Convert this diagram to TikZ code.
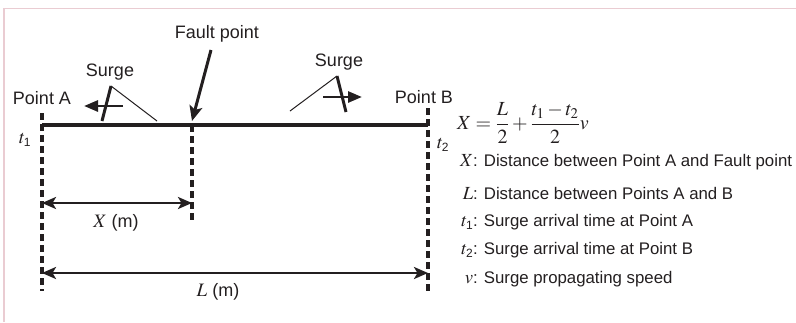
\documentclass[tikz,border=0pt]{standalone}
\usepackage{mathptmx}
\usepackage{fontspec}
\setmainfont{Liberation Sans}
\usetikzlibrary{arrows.meta}
\definecolor{cframe}{RGB}{234,204,210}
\definecolor{cink}{RGB}{35,31,32}
\newcommand{\tsb}[1]{$t_{\mbox{\fontsize{12}{12}\selectfont #1}}$}
\newcommand{\symb}[1]{\makebox[16pt][r]{\fontsize{18.5}{20}\selectfont #1}}

\begin{document}
\begin{tikzpicture}[
  x=1pt, y=-1pt,
  font=\fontsize{18}{21}\selectfont,
  mainline/.style={cink, line width=3.2pt},
  vdash/.style={cink, line width=3.2pt, dash pattern=on 7pt off 4pt},
  dimarrow/.style={cink, line width=2.8pt, {Stealth[length=14pt,width=12pt,inset=3.5pt]}-{Stealth[length=14pt,width=12pt,inset=3.5pt]}},
  faultarrow/.style={cink, line width=3pt, -{Stealth[length=15pt,width=13pt,inset=3.5pt]}},
  surgearrow/.style={cink, line width=2.8pt, -{Triangle[length=14pt,width=11pt]}},
  surgetick/.style={cink, line width=3pt},
  leader/.style={cink, line width=1pt},
  lbl/.style={text=cink, inner sep=1pt},
  deftext/.style={text=cink, anchor=west, inner sep=0pt, font=\fontsize{16.8}{20}\selectfont},
]
\useasboundingbox (0,0) rectangle (796,322);
% frame
\draw[cframe, line width=1.5pt] (4,322) -- (4,8.5) -- (796,8.5);

% line and end points
\coordinate (A) at (42,125);
\coordinate (B) at (428,125);
\coordinate (F) at (192,125);
\coordinate (Atop) at (42,113);
\coordinate (Abot) at (42,291);
\coordinate (Btop) at (428,108);
\coordinate (Bbot) at (428,291);
\coordinate (Fbot) at (192,223);
\draw[mainline] (A) -- (B);
\draw[vdash] (Atop) -- (Abot);
\draw[vdash] (Btop) -- (Bbot);
\draw[vdash] (F) -- (Fbot);

% labels at the ends
\node[lbl] (pA) at (42,98) {Point A};
\node[lbl] (pB) at (424,97) {Point B};
\node[lbl, font=\fontsize{19}{21}\selectfont] (t1) at (25,140) {\tsb{1}};
\node[lbl, font=\fontsize{19}{21}\selectfont] (t2) at (443,145) {\tsb{2}};

% fault point
\node[lbl] (fp) at (217,34) {Fault point};
\coordinate (fptip) at (192,121);
\draw[faultarrow] (211,50) -- (fptip);

% surges
\node[lbl] (sL) at (110,72) {Surge};
\coordinate (sLtop) at (111,86);
\coordinate (sLbot) at (102,121);
\coordinate (sLfoot) at (157,121);
\coordinate (sLtail) at (123,106);
\coordinate (sLhead) at (84,106);
\draw[surgearrow] (sLtail) -- (sLhead);
\draw[surgetick] (sLtop) -- (sLbot);
\draw[leader] (sLtop) -- (sLfoot);

\node[lbl] (sR) at (339,62) {Surge};
\coordinate (sRtop) at (337,76);
\coordinate (sRbot) at (346,112);
\coordinate (sRfoot) at (290,111);
\coordinate (sRtail) at (323,97);
\coordinate (sRhead) at (362,97);
\draw[surgearrow] (sRtail) -- (sRhead);
\draw[surgetick] (sRtop) -- (sRbot);
\draw[leader] (sRtop) -- (sRfoot);

% dimensions
\coordinate (XL) at (42,203);
\coordinate (XR) at (192,203);
\coordinate (LL) at (42,273);
\coordinate (LR) at (428,273);
\draw[dimarrow] (XL) -- (XR);
\draw[dimarrow] (LL) -- (LR);
\node[lbl] (xm) at (116,223) {{\fontsize{19}{21}\selectfont$X$} (m)};
\node[lbl] (lm) at (218,292) {{\fontsize{19}{21}\selectfont$L$} (m)};

% formula and legend
\node[deftext, font=\fontsize{20}{24}\selectfont] (eq) at (457,123) {$\displaystyle X=\frac{L}{2}+\frac{t_1-t_2}{2}v$};
\node[deftext] (dX) at (457,162) {\symb{$X$}:\hspace{6pt}Distance between Point A and Fault point};
\node[deftext] (dL) at (457,193) {\symb{$L$}:\hspace{6pt}Distance between Points A and B};
\node[deftext] (dt1) at (457,222) {\symb{\tsb{1}}:\hspace{6pt}Surge arrival time at Point A};
\node[deftext] (dt2) at (457,250) {\symb{\tsb{2}}:\hspace{6pt}Surge arrival time at Point B};
\node[deftext] (dv) at (457,279) {\symb{$v$}:\hspace{6pt}Surge propagating speed};
\end{tikzpicture}
\end{document}
